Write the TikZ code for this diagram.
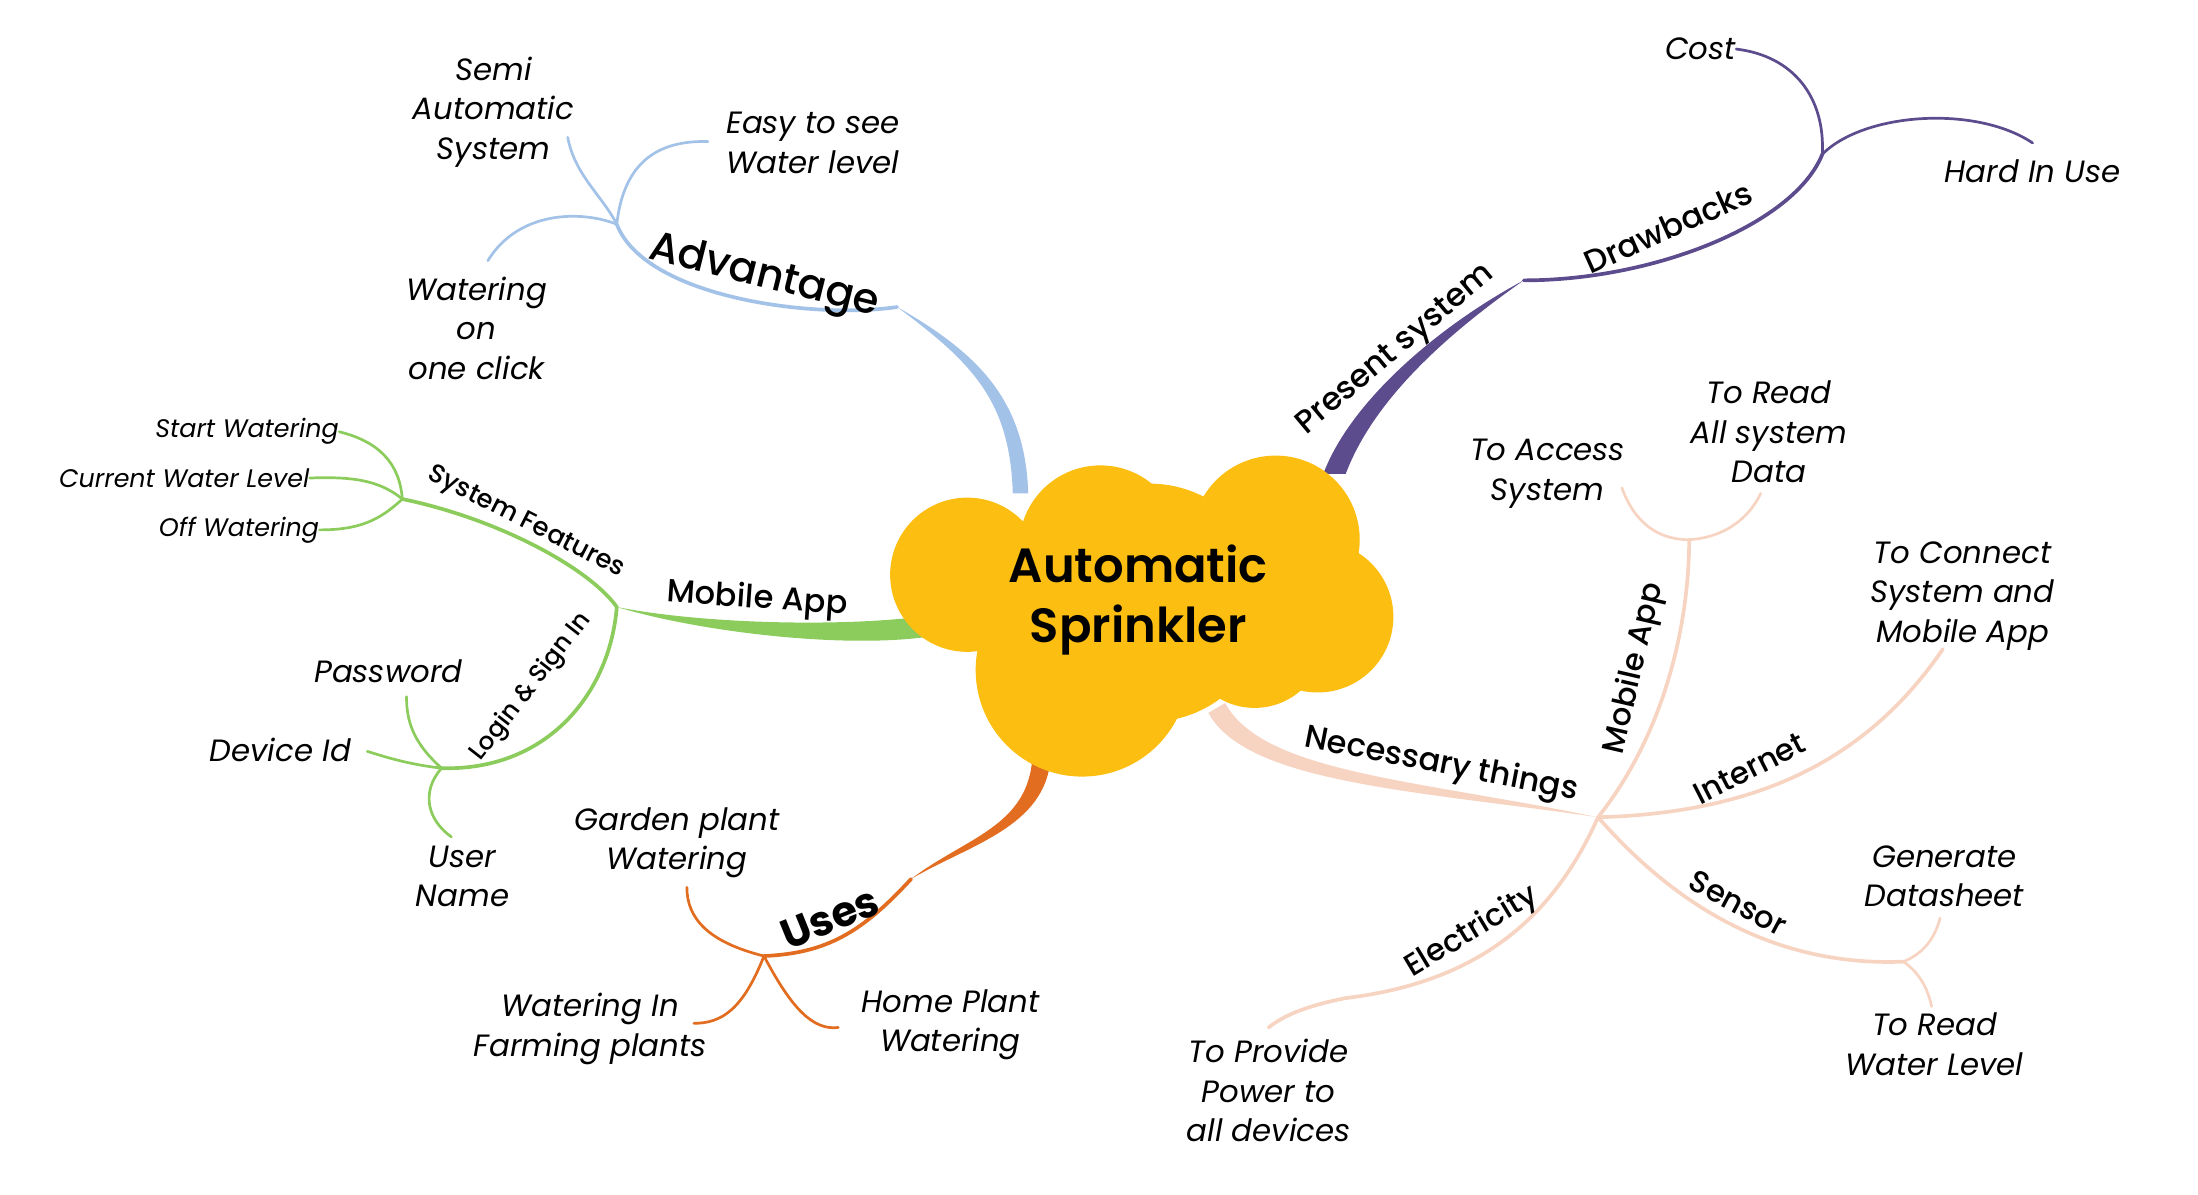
\documentclass[tikz,border=0pt]{standalone}
\usepackage{fontspec}
\setmainfont{Poppins}
\IfFontExistsTF{Poppins Medium}{\newfontfamily\medfont{Poppins Medium}}{\let\medfont\relax}
\IfFontExistsTF{Poppins SemiBold}{\newfontfamily\semifont{Poppins SemiBold}}{\let\semifont\bfseries}
\usepackage{tikz}
\usetikzlibrary{calc,positioning}

\definecolor{cloudy}{RGB}{252,190,17}
\definecolor{advblue}{RGB}{163,194,232}
\definecolor{appgreen}{RGB}{140,204,92}
\definecolor{useorange}{RGB}{226,108,32}
\definecolor{prepurple}{RGB}{92,76,142}
\definecolor{needpeach}{RGB}{247,212,194}

\newcommand{\taper}[7]{\fill[#1] ($(#2)+(#6)$) .. controls ($(#3)+(#6)$) and ($(#4)+(#7)$) .. (#5)
  .. controls ($(#4)-(#7)$) and ($(#3)-(#6)$) .. ($(#2)-(#6)$) -- cycle;}

\begin{document}
\begin{tikzpicture}[x=0.02cm, y=-0.02cm,
    leaf/.style={font=\fontsize{12.5}{16}\selectfont\itshape, align=center, inner sep=0pt},
    tiny/.style={font=\fontsize{10.3}{12}\selectfont\itshape, inner sep=0pt, anchor=east},
    lbl/.style={font=\medfont\fontsize{#1}{#1}\selectfont, inner sep=0pt},
    lbl/.default=13,
    twig/.style={line width=1.1pt, line cap=round},
    bough/.style={line width=1.5pt, line cap=round}]
  \useasboundingbox (0,0) rectangle (1568,852);

  \coordinate (adv0) at (728,352);
  \coordinate (adv1) at (640,219);
  \coordinate (advJ) at (440,160);
  \coordinate (mob0) at (660,447);
  \coordinate (mobJ) at (440,433);
  \coordinate (sysJ) at (287,356);
  \coordinate (logJ) at (315,548);
  \coordinate (use0) at (743,540);
  \coordinate (use1) at (650,627);
  \coordinate (useJ) at (545,682);
  \coordinate (pre0) at (952,338);
  \coordinate (pre1) at (1087,200);
  \coordinate (drwJ) at (1300,110);
  \coordinate (nes0) at (868,505);
  \coordinate (nesJ) at (1140,583);
  \coordinate (appJ) at (1205,385);
  \coordinate (senJ) at (1358,686);

  % leaves
  \node[leaf] (semi) at (352,80) {Semi\\Automatic\\System};
  \node[leaf] (easy) at (580,102) {Easy to see\\Water level};
  \node[leaf] (click) at (340,234) {Watering\\on\\one click};
  \node[tiny] (start) at (242,308) {Start Watering};
  \node[tiny] (level) at (221,341) {Current Water Level};
  \node[tiny] (off) at (228,378) {Off Watering};
  \node[leaf] (pass) at (277,479) {Password};
  \node[leaf] (dev) at (200,535) {Device Id};
  \node[leaf] (user) at (330,625) {User\\Name};
  \node[leaf] (garden) at (483,601) {Garden plant\\Watering};
  \node[leaf] (farm) at (421,734) {Watering In\\Farming plants};
  \node[leaf] (home) at (678,731) {Home Plant\\Watering};
  \node[leaf] (cost) at (1213,35) {Cost};
  \node[leaf] (hard) at (1450,122) {Hard In Use};
  \node[leaf] (access) at (1104,338) {To Access\\System};
  \node[leaf] (read) at (1262,308) {To Read\\All system\\Data};
  \node[leaf] (connect) at (1400,425) {To Connect\\System and\\Mobile App};
  \node[leaf] (sheet) at (1387,625) {Generate\\Datasheet};
  \node[leaf] (water) at (1380,745) {To Read\\Water Level};
  \node[leaf] (power) at (905,778) {To Provide\\Power to\\all devices};

  % trunks
  \taper{advblue}{adv0}{726,285}{695,255}{adv1}{5.5,0}{2.3,-3.3}
  \taper{appgreen}{mob0}{600,455}{500,448}{mobJ}{0,7.5}{0,3}
  \taper{useorange}{use0}{740,590}{690,600}{use1}{6.5,0}{1.5,2.5}
  \taper{prepurple}{pre0}{972,285}{1030,235}{pre1}{8,0}{2,3.5}
  \taper{needpeach}{nes0}{895,555}{1010,560}{nesJ}{6,-3.5}{0.7,-4}

  % cloud
  \fill[cloudy] (690,410) circle (55) (785,390) circle (58) (910,385) circle (60)
    (940,440) circle (54) (895,455) circle (50) (772,478) circle (76)
    (820,430) circle (85);
  \node[font=\semifont\fontsize{19.5}{24.5}\selectfont, align=center] (hub) at (812,428) {Automatic\\Sprinkler};

  % advantage
  \draw[bough, advblue] (adv1) .. controls (580,228) and (460,212) .. (advJ);
  \draw[twig, advblue] (advJ) .. controls (430,140) and (410,125) .. (405,98);
  \draw[twig, advblue] (advJ) .. controls (445,115) and (470,100) .. (505,101);
  \draw[twig, advblue] (advJ) .. controls (415,150) and (370,150) .. (348,186);
  \node[lbl=17, rotate=-14] (advl) at (545,198) {Advantage};

  % mobile app
  \draw[bough, appgreen] (mobJ) .. controls (420,405) and (355,370) .. (sysJ);
  \draw[bough, appgreen] (mobJ) .. controls (435,495) and (390,550) .. (logJ);
  \draw[twig, appgreen] (sysJ) .. controls (285,330) and (270,315) .. (start.east);
  \draw[twig, appgreen] (sysJ) .. controls (270,342) and (250,340) .. (level.east);
  \draw[twig, appgreen] (sysJ) .. controls (270,372) and (255,378) .. (off.east);
  \draw[twig, appgreen] (logJ) .. controls (295,530) and (290,515) .. (290,497);
  \draw[twig, appgreen] (logJ) .. controls (290,545) and (275,540) .. (262,536);
  \draw[twig, appgreen] (logJ) .. controls (300,565) and (305,585) .. (322,597);
  \node[lbl, rotate=-4] (mobl) at (540,428) {Mobile App};
  \node[lbl=10.5, rotate=-27] (sysl) at (375,373) {System Features};
  \node[lbl=10, rotate=52] (logl) at (379,490) {Login \& Sign In};

  % uses
  \draw[bough, useorange] (use1) .. controls (615,665) and (590,680) .. (useJ);
  \draw[twig, useorange] (useJ) .. controls (505,672) and (490,655) .. (490,633);
  \draw[twig, useorange] (useJ) .. controls (530,720) and (515,730) .. (495,730);
  \draw[twig, useorange] (useJ) .. controls (565,720) and (580,735) .. (598,733);
  \node[font=\bfseries\fontsize{17}{17}\selectfont, inner sep=0pt, rotate=22] (usel) at (592,655) {Uses};

  % present system
  \draw[bough, prepurple] (pre1) .. controls (1180,200) and (1280,160) .. (drwJ);
  \draw[twig, prepurple] (drwJ) .. controls (1302,70) and (1280,40) .. (cost.east);
  \draw[twig, prepurple] (drwJ) .. controls (1330,80) and (1410,75) .. (1450,102);
  \node[lbl, rotate=40] (prel) at (996,250) {Present system};
  \node[lbl, rotate=24] (drwl) at (1190,162) {Drawbacks};

  % necessary things
  \draw[bough, needpeach] (nesJ) .. controls (1190,520) and (1205,440) .. (appJ);
  \draw[twig, needpeach] (appJ) .. controls (1180,385) and (1165,370) .. (1157,348);
  \draw[twig, needpeach] (appJ) .. controls (1235,383) and (1250,365) .. (1256,352);
  \draw[bough, needpeach] (nesJ) .. controls (1250,580) and (1330,545) .. (1386,463);
  \draw[bough, needpeach] (nesJ) .. controls (1190,640) and (1260,690) .. (senJ);
  \draw[twig, needpeach] (senJ) .. controls (1372,680) and (1380,670) .. (1384,655);
  \draw[twig, needpeach] (senJ) .. controls (1370,695) and (1375,705) .. (1378,718);
  \draw[bough, needpeach] (nesJ) .. controls (1110,650) and (1060,700) .. (960,712)
    .. controls (930,718) and (915,725) .. (905,733);
  \node[lbl, rotate=-11] (nesl) at (1028,546) {Necessary things};
  \node[lbl=12.5, rotate=77] (appl) at (1166,477) {Mobile App};
  \node[lbl=12.5, rotate=27] (intl) at (1248,548) {Internet};
  \node[lbl=12.5, rotate=-28] (senl) at (1240,644) {Sensor};
  \node[lbl=12.5, rotate=31] (elel) at (1050,665) {Electricity};
\end{tikzpicture}
\end{document}
